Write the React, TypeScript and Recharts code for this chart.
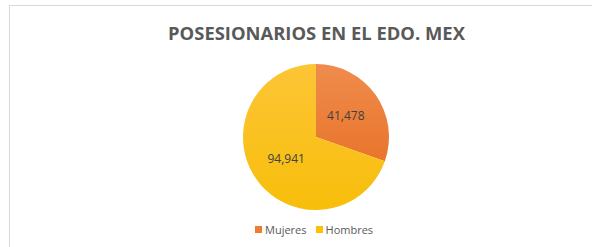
import React from 'react';
import { PieChart, Pie, Cell, Legend } from 'recharts';

const categories = ['Mujeres', 'Hombres'];
const values = [41478, 94941];
const colors = ['#ED7D31', '#FFC000'];

const data = categories.map((name, i) => ({ name, value: values[i] }));

const RADIAN = Math.PI / 180;

const renderLabel = (props: any) => {
  const { cx, cy, midAngle, outerRadius, value } = props;
  const r = outerRadius * 0.5;
  const x = cx + r * Math.cos(-midAngle * RADIAN);
  const y = cy + r * Math.sin(-midAngle * RADIAN);
  return (
    <text
      x={x}
      y={y}
      fill="#404040"
      fontSize={12}
      fontFamily="'Open Sans', sans-serif"
      textAnchor="middle"
      dominantBaseline="central"
    >
      {value.toLocaleString('en-US')}
    </text>
  );
};

// legend in data order (the default one sorts by name)
const renderLegend = () => (
  <div style={{ display: 'flex', fontFamily: "'Open Sans', sans-serif", fontSize: 11, color: '#595959' }}>
    {categories.map((c, i) => (
      <div key={c} style={{ display: 'flex', alignItems: 'center', marginRight: 9 }}>
        <span style={{ width: 7, height: 7, background: colors[i], marginRight: 3 }} />
        <span>{c}</span>
      </div>
    ))}
  </div>
);

export default function App() {
  return (
    <div style={{ position: 'absolute', left: 0, top: 0, width: 592, height: 247, background: '#fff' }}>
      <div
        style={{
          position: 'absolute',
          left: 9,
          top: 5,
          right: 0,
          bottom: 0,
          borderTop: '1px solid #d9d9d9',
          borderLeft: '1px solid #d9d9d9',
        }}
      />
      <div
        style={{
          position: 'absolute',
          left: 0,
          width: 633,
          top: 21,
          textAlign: 'center',
          fontFamily: "'Open Sans', sans-serif",
          fontWeight: 700,
          fontSize: 18.4,
          color: '#595959',
          lineHeight: '24px',
          whiteSpace: 'nowrap',
        }}
      >
        POSESIONARIOS EN EL EDO. MEX
      </div>
      <PieChart width={592} height={247} style={{ position: 'absolute', left: 0, top: 0 }}>
        <defs>
          <linearGradient id="gOrange" x1="0" y1="0" x2="0" y2="1">
            <stop offset="0%" stopColor="#EF8C4D" />
            <stop offset="100%" stopColor="#E9752B" />
          </linearGradient>
          <linearGradient id="gYellow" x1="0" y1="0" x2="0" y2="1">
            <stop offset="0%" stopColor="#FDC536" />
            <stop offset="100%" stopColor="#F7BE0A" />
          </linearGradient>
        </defs>
        <Pie
          data={data}
          dataKey="value"
          nameKey="name"
          cx={311}
          cy={132}
          outerRadius={73}
          startAngle={90}
          endAngle={-270}
          stroke="none"
          label={renderLabel}
          labelLine={false}
          isAnimationActive={false}
        >
          {data.map((d, i) => (
            <Cell key={d.name} fill={i === 0 ? 'url(#gOrange)' : 'url(#gYellow)'} />
          ))}
        </Pie>
        <Legend
          content={renderLegend}
          wrapperStyle={{ left: 255, top: 222, width: 'auto' }}
        />
      </PieChart>
    </div>
  );
}
